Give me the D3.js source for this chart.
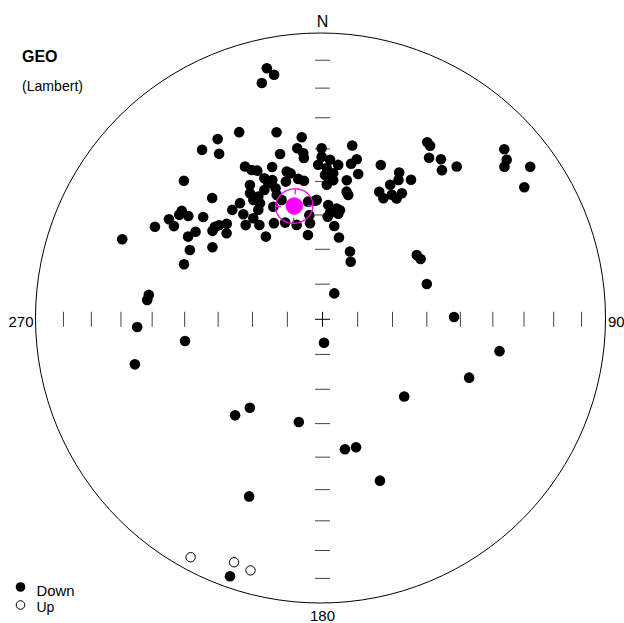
<!DOCTYPE html>
<html>
<head>
<meta charset="utf-8">
<script src="https://cdn.jsdelivr.net/npm/d3@7"></script>
<style>
  body { margin: 0; background: #fff; }
  text { font-family: "Liberation Sans", Arial, sans-serif; }
</style>
</head>
<body>
<div id="wrapper"></div>
<script>
// Data: declination / inclination (degrees)
const downDec = [347.5, 348.8, 345.6, 291.8, 298.9, 303.1, 302.1, 307.6, 306.1, 307.6,
  301.6, 297.6, 304.6, 310.6, 317.7, 303.2, 315.0, 324.6, 329.8, 328.0,
  336.0, 346.2, 353.5, 345.6, 351.6, 353.4, 359.7, 333.1, 334.6, 336.3,
  341.7, 337.6, 340.2, 331.6, 346.4, 347.7, 350.2, 352.4, 345.1, 330.1,
  329.9, 332.4, 331.7, 340.3, 339.8, 341.1, 335.8, 338.3, 324.6, 320.5,
  323.0, 329.6, 325.6, 320.8, 326.2, 325.6, 336.4, 333.2, 338.9, 344.7,
  353.0, 352.8, 352.6, 350.2, 357.2, 310.7, 312.3, 314.9, 311.9, 308.8,
  291.7, 278.0, 276.3, 267.6, 261.0, 256.5, 353.4, 9.7, 359.7, 2.7,
  358.4, 1.6, 5.8, 4.2, 1.0, 12.1, 10.4, 13.8, 9.9, 4.4,
  1.8, 10.7, 11.7, 356.4, 2.9, 7.3, 9.1, 4.0, 8.5, 2.9,
  7.2, 11.4, 22.1, 26.1, 24.4, 20.7, 27.6, 28.6, 26.7, 32.4,
  24.0, 26.7, 29.1, 31.5, 32.2, 30.6, 31.8, 33.4, 36.5, 38.7,
  41.3, 46.9, 49.1, 50.0, 53.7, 56.8, 55.7, 58.4, 71.3, 89.0,
  176.3, 100.2, 111.7, 133.4, 222.3, 219.4, 193.0, 202.5, 170.2, 165.3,
  160.4, 199.8];
const downInc = [10.7, 13.6, 15.5, 25.3, 33.3, 35.9, 38.4, 37.7, 37.8, 40.3,
  43.9, 46.4, 45.0, 44.1, 42.0, 51.9, 31.8, 27.9, 27.7, 32.1,
  28.9, 32.9, 35.9, 39.9, 39.2, 42.5, 39.8, 39.7, 41.6, 42.5,
  43.1, 45.5, 46.9, 45.5, 45.7, 46.5, 48.6, 49.4, 48.6, 47.7,
  50.0, 49.8, 51.8, 49.6, 51.6, 53.5, 48.8, 47.4, 48.6, 48.8,
  51.9, 53.3, 54.6, 54.9, 57.3, 61.2, 54.5, 59.0, 60.2, 61.9,
  55.8, 59.8, 62.2, 65.5, 55.5, 48.8, 49.4, 50.8, 52.7, 49.0,
  46.6, 38.4, 38.1, 35.2, 49.6, 32.8, 41.0, 38.1, 42.4, 43.3,
  44.9, 45.9, 44.7, 47.4, 48.0, 42.1, 43.8, 46.4, 49.0, 49.5,
  51.0, 52.4, 53.3, 55.7, 57.0, 57.8, 58.2, 59.4, 59.3, 60.5,
  63.0, 66.1, 69.1, 71.7, 81.9, 41.7, 41.5, 43.6, 46.1, 41.6,
  49.5, 50.7, 48.6, 48.8, 46.6, 28.6, 29.1, 32.6, 30.8, 33.4,
  29.4, 13.7, 15.6, 17.8, 10.5, 16.5, 57.1, 56.8, 58.3, 51.9,
  83.3, 37.0, 43.9, 57.6, 52.4, 57.0, 59.7, 33.2, 51.8, 51.7,
  39.7, 4.7];
const upDec = [209.0, 200.0, 196.0];
const upInc = [-5.1, -10.2, -9.2];

// Fisher mean and cone of confidence
const meanDec = 346.0;
const meanInc = 56.3;
const alpha95 = 5.1;

// Labels
const TITLE = "GEO";
const SUBTITLE = "(Lambert)";
const axisLabels = ["N", "90", "180", "270"];
const legendLabels = ["Down", "Up"];
const tickDips = [10, 20, 30, 40, 50, 60, 70, 80];

// Constants
const WIDTH = 624;
const HEIGHT = 623;
const R = 285;
const center = { x: 322.5, y: 319.3 };
const rim = { x: 320.5, y: 318 };
const DOT_R = 5.3;
const TICK_LEN = 7.5;
const rad = Math.PI / 180;

const toPoints = (decs, incs) => decs.map((d, i) => ({ dec: d, inc: incs[i] }));

function drawStereonet() {
  const svg = d3.select("#wrapper")
    .append("svg")
    .attr("width", WIDTH)
    .attr("height", HEIGHT);

  svg.append("rect").attr("width", WIDTH).attr("height", HEIGHT).attr("fill", "#fff");

  // Lambert equal-area: r = R * sqrt(1 - sin|inc|)
  const rScale = d3.scaleSqrt().domain([0, 1]).range([0, R]);
  const radius = inc => rScale(1 - Math.sin(Math.abs(inc) * rad));
  const project = (dec, inc) => {
    const r = radius(inc);
    return [center.x + r * Math.sin(dec * rad), center.y - r * Math.cos(dec * rad)];
  };

  // Primitive circle
  svg.append("circle")
    .attr("cx", rim.x).attr("cy", rim.y).attr("r", R)
    .attr("fill", "none").attr("stroke", "#000").attr("stroke-width", 1);

  // Ticks along the four axes
  const ticks = svg.append("g").attr("stroke", "#444").attr("stroke-width", 1);
  [0, 90, 180, 270].forEach(az => {
    tickDips.forEach(dip => {
      const [x, y] = project(az, dip);
      const vertical = az === 90 || az === 270;
      ticks.append("line")
        .attr("x1", vertical ? x : x - TICK_LEN)
        .attr("x2", vertical ? x : x + TICK_LEN)
        .attr("y1", vertical ? y - TICK_LEN : y)
        .attr("y2", vertical ? y + TICK_LEN : y);
    });
  });
  // center cross
  const cross = svg.append("g").attr("stroke", "#000").attr("stroke-width", 1);
  cross.append("line").attr("x1", center.x - TICK_LEN).attr("x2", center.x + TICK_LEN)
    .attr("y1", center.y).attr("y2", center.y);
  cross.append("line").attr("x1", center.x).attr("x2", center.x)
    .attr("y1", center.y - TICK_LEN).attr("y2", center.y + TICK_LEN);

  // Directions
  svg.append("g").selectAll("circle")
    .data(toPoints(downDec, downInc))
    .join("circle")
    .attr("cx", d => project(d.dec, d.inc)[0])
    .attr("cy", d => project(d.dec, d.inc)[1])
    .attr("r", DOT_R)
    .attr("fill", "#000");

  svg.append("g").selectAll("circle")
    .data(toPoints(upDec, upInc))
    .join("circle")
    .attr("cx", d => project(d.dec, d.inc)[0])
    .attr("cy", d => project(d.dec, d.inc)[1])
    .attr("r", DOT_R - 0.6)
    .attr("fill", "#fff")
    .attr("stroke", "#000")
    .attr("stroke-width", 1);

  // Cone of confidence (small circle around the mean)
  const D = meanDec * rad, I = meanInc * rad, a = alpha95 * rad;
  const m = [Math.cos(I) * Math.cos(D), Math.cos(I) * Math.sin(D), Math.sin(I)];
  const u = [-Math.sin(I) * Math.cos(D), -Math.sin(I) * Math.sin(D), Math.cos(I)];
  const v = [-Math.sin(D), Math.cos(D), 0];
  const ring = d3.range(0, 361, 4).map(t => {
    const c = Math.cos(t * rad), s = Math.sin(t * rad);
    const p = [0, 1, 2].map(k => Math.cos(a) * m[k] + Math.sin(a) * (c * u[k] + s * v[k]));
    const dec = Math.atan2(p[1], p[0]) / rad;
    const inc = Math.asin(p[2]) / rad;
    return project(dec, inc);
  });
  const mp = project(meanDec, meanInc);
  const magenta = "#ff00ff";
  svg.append("path")
    .attr("d", d3.line()(ring))
    .attr("fill", "none")
    .attr("stroke", magenta)
    .attr("stroke-width", 1.3);

  const ext = [
    d3.least(ring, p => p[1]), d3.greatest(ring, p => p[1]),
    d3.least(ring, p => p[0]), d3.greatest(ring, p => p[0])
  ];
  ext.forEach(p => {
    const dx = mp[0] - p[0], dy = mp[1] - p[1];
    const len = Math.hypot(dx, dy);
    svg.append("line")
      .attr("x1", p[0]).attr("y1", p[1])
      .attr("x2", p[0] + dx / len * 5.5).attr("y2", p[1] + dy / len * 5.5)
      .attr("stroke", magenta).attr("stroke-width", 1.3);
  });
  svg.append("circle")
    .attr("cx", mp[0]).attr("cy", mp[1]).attr("r", 8.7)
    .attr("fill", magenta);

  // Labels
  svg.append("text").attr("x", 22).attr("y", 61.5)
    .attr("font-size", 16).attr("font-weight", "bold").text(TITLE);
  svg.append("text").attr("x", 22).attr("y", 90.5)
    .attr("font-size", 15).attr("textLength", 61).attr("lengthAdjust", "spacingAndGlyphs")
    .text(SUBTITLE);

  svg.append("text").attr("x", center.x).attr("y", 26.5)
    .attr("font-size", 16).attr("text-anchor", "middle").text(axisLabels[0]);
  svg.append("text").attr("x", 608).attr("y", 326.5)
    .attr("font-size", 15).text(axisLabels[1]);
  svg.append("text").attr("x", center.x).attr("y", 620.5)
    .attr("font-size", 15).attr("text-anchor", "middle").text(axisLabels[2]);
  svg.append("text").attr("x", 33.5).attr("y", 326.5)
    .attr("font-size", 15).attr("text-anchor", "end").text(axisLabels[3]);

  // Legend
  const legend = svg.append("g");
  legend.append("circle").attr("cx", 20.5).attr("cy", 587).attr("r", 4.8).attr("fill", "#000");
  legend.append("circle").attr("cx", 20.5).attr("cy", 605).attr("r", 4.3)
    .attr("fill", "#fff").attr("stroke", "#000").attr("stroke-width", 1);
  legend.append("text").attr("x", 36.5).attr("y", 596).attr("font-size", 14)
    .attr("textLength", 38).attr("lengthAdjust", "spacingAndGlyphs").text(legendLabels[0]);
  legend.append("text").attr("x", 36.5).attr("y", 611.7).attr("font-size", 14).text(legendLabels[1]);
}
drawStereonet();
</script>
</body>
</html>
